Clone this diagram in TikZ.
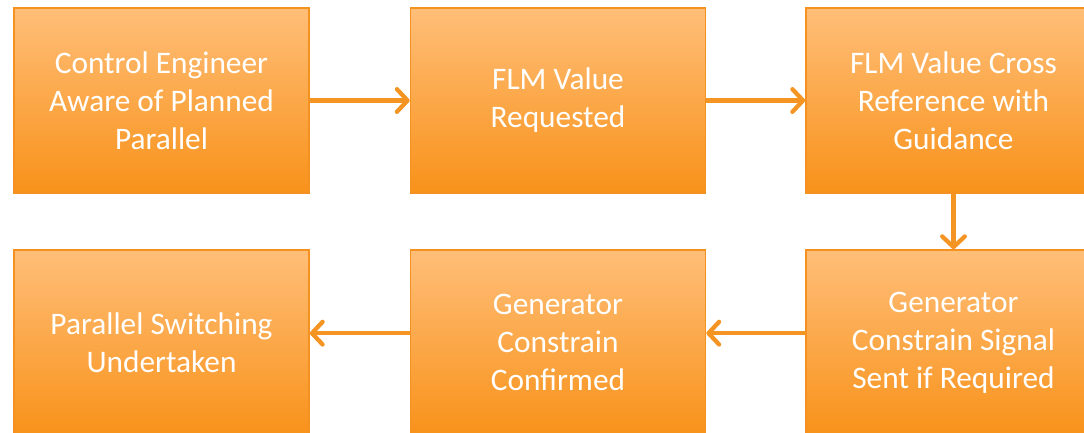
\documentclass[tikz,border=0pt]{standalone}
\usepackage{fontspec}
\setmainfont{Carlito}
\usetikzlibrary{arrows.meta,shadings}
\definecolor{boxtop}{RGB}{255,190,120}
\definecolor{boxbot}{RGB}{248,146,26}
\definecolor{boxline}{RGB}{245,145,32}
\definecolor{arr}{RGB}{244,148,34}
\tikzset{
  flowbox/.style={rectangle, draw=boxline, line width=1.2pt, top color=boxtop, bottom color=boxbot,
    minimum width=295*0.75pt, minimum height=185*0.75pt, inner sep=0pt,
    text=white, align=center, font=\fontsize{23.5}{28.5}\selectfont},
  flowarrow/.style={draw=arr, line width=3.2pt, -{Straight Barb[length=8pt,width=17pt,round]}}
}
\begin{document}
\begin{tikzpicture}[x=0.75pt,y=-0.75pt]
\useasboundingbox (0,0) rectangle (1084,432);
\clip (0,0) rectangle (1084,432);
\node[flowbox] (b1) at (161.5,100.5) {Control Engineer\\Aware of Planned\\Parallel};
\node[flowbox] (b2) at (558,100.5) {FLM Value\\Requested};
\node[flowbox] (b3) at (953.5,100.5) {FLM Value Cross\\Reference with\\Guidance};
\node[flowbox] (b4) at (953.5,342.5) {Generator\\Constrain Signal\\Sent if Required};
\node[flowbox] (b5) at (558,342.5) {Generator\\Constrain\\Confirmed};
\node[flowbox] (b6) at (161.5,342.5) {Parallel Switching\\Undertaken};
\draw[flowarrow] (b1.east) -- (b2.west);
\draw[flowarrow] (b2.east) -- (b3.west);
\draw[flowarrow] (b3.south) -- (b4.north);
\draw[flowarrow] ([yshift=7pt]b4.west) -- ([yshift=7pt]b5.east);
\draw[flowarrow] ([yshift=7pt]b5.west) -- ([yshift=7pt]b6.east);
\end{tikzpicture}
\end{document}
